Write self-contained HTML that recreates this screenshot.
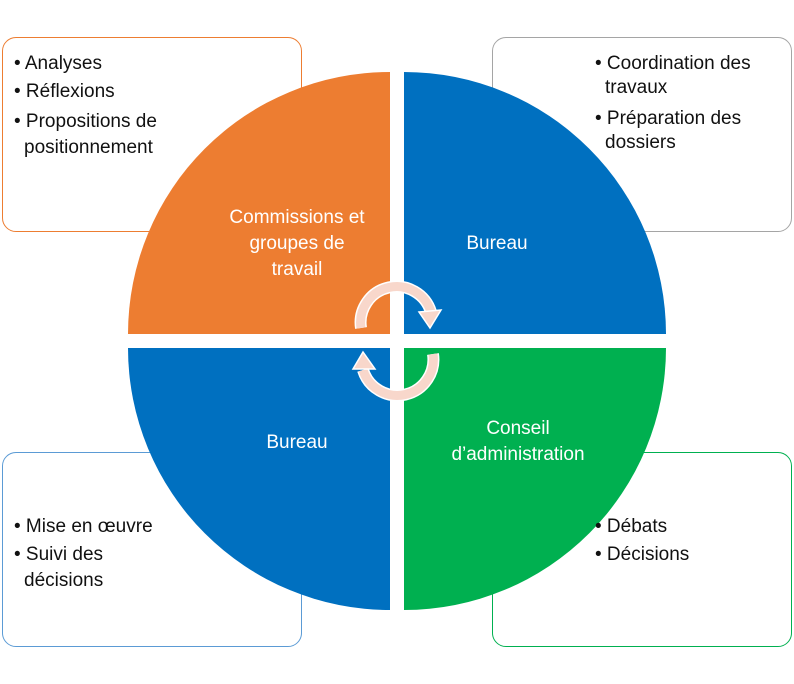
<!DOCTYPE html>
<html><head><meta charset="utf-8"><style>
body{margin:0;width:794px;height:684px;background:#fff;position:relative;overflow:hidden;font-family:"Liberation Sans",sans-serif;}
.box{position:absolute;width:300px;height:195px;border:1.5px solid;border-radius:14px;background:#fff;box-sizing:border-box;}
.t{position:absolute;font-size:19px;color:#111;line-height:26px;white-space:nowrap;}
.w{position:absolute;font-size:19px;color:#fff;text-align:center;line-height:26px;white-space:nowrap;}
</style></head><body>
<div class="box" style="left:2px;top:37px;border-color:#ED7D31"></div>
<div class="box" style="left:492px;top:37px;border-color:#a5a5a5"></div>
<div class="box" style="left:2px;top:452px;border-color:#5B9BD5"></div>
<div class="box" style="left:492px;top:452px;border-color:#00B050"></div>
<svg width="794" height="684" style="position:absolute;left:0;top:0">
<path d="M390,72 A262,262 0 0 0 128,334 L390,334 Z" fill="#ED7D31"/>
<path d="M404,72 A262,262 0 0 1 666,334 L404,334 Z" fill="#0070C0"/>
<path d="M390,610 A262,262 0 0 1 128,348 L390,348 Z" fill="#0070C0"/>
<path d="M404,610 A262,262 0 0 0 666,348 L404,348 Z" fill="#00B050"/>
<g fill="none" stroke-linecap="butt">
<path d="M361,328 A36,36 0 0 1 431,312" stroke="#fff" stroke-width="12"/>
<path d="M361,328 A36,36 0 0 1 431,312" stroke="#F8D7CB" stroke-width="9"/>
<path d="M433,354 A36,36 0 0 1 363,370" stroke="#fff" stroke-width="12"/>
<path d="M433,354 A36,36 0 0 1 363,370" stroke="#F8D7CB" stroke-width="9"/>
</g>
<polygon points="419,312 441,310 430,328" fill="#F8D7CB" stroke="#fff" stroke-width="1.5"/>
<polygon points="353,369 375,369 363,352" fill="#F8D7CB" stroke="#fff" stroke-width="1.5"/>
</svg>
<div class="t" style="left:14px;top:51px">• Analyses</div>
<div class="t" style="left:14px;top:79px">• Réflexions</div>
<div class="t" style="left:14px;top:109px">• Propositions de</div>
<div class="t" style="left:24px;top:135px">positionnement</div>
<div class="t" style="left:595px;top:51px">• Coordination des</div>
<div class="t" style="left:605px;top:75px">travaux</div>
<div class="t" style="left:595px;top:106px">• Préparation des</div>
<div class="t" style="left:605px;top:130px">dossiers</div>
<div class="t" style="left:14px;top:514px">• Mise en œuvre</div>
<div class="t" style="left:14px;top:542px">• Suivi des</div>
<div class="t" style="left:24px;top:568px">décisions</div>
<div class="t" style="left:595px;top:514px">• Débats</div>
<div class="t" style="left:595px;top:542px">• Décisions</div>
<div class="w" style="left:197px;top:205px;width:200px">Commissions et</div>
<div class="w" style="left:197px;top:231px;width:200px">groupes de</div>
<div class="w" style="left:197px;top:257px;width:200px">travail</div>
<div class="w" style="left:437px;top:231px;width:120px">Bureau</div>
<div class="w" style="left:237px;top:430px;width:120px">Bureau</div>
<div class="w" style="left:418px;top:416px;width:200px">Conseil</div>
<div class="w" style="left:418px;top:442px;width:200px">d’administration</div>
</body></html>
